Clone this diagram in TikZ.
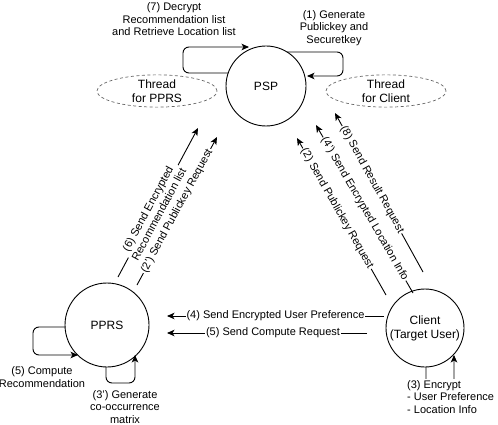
\documentclass[tikz,border=0pt]{standalone}
\usepackage{fontspec}
\setmainfont{Liberation Sans}
\usetikzlibrary{arrows.meta,shapes.geometric}
\begin{document}
\begin{tikzpicture}[x=1pt,y=-1pt,
  ln/.style={line width=0.9pt},
  arr/.style={ln,-{Stealth[length=7.5pt,width=6.5pt,inset=2pt]}},
  circ/.style={circle,draw,line width=0.9pt,inner sep=0pt,align=center,font=\fontsize{12}{14}\selectfont},
  thr/.style={ellipse,draw=black!60,dashed,dash pattern=on 3pt off 2.5pt,line width=0.7pt,minimum width=120pt,minimum height=31pt,inner sep=0pt,align=center,font=\fontsize{12}{14}\selectfont},
  lbl/.style={font=\fontsize{11}{12.5}\selectfont,align=center,inner sep=1pt},
  lab/.style={lbl,fill=white,sloped}]
\useasboundingbox (0,0) rectangle (498,425);
% main nodes
\node[circ,minimum size=80pt] (psp) at (266,86) {PSP};
\node[circ,minimum size=84pt] (pprs) at (107,325) {PPRS};
\node[circ,minimum size=78pt] (client) at (425,328) {Client\\(Target User)};
\node[thr] (tp) at (157,91) {Thread\\for PPRS};
\node[thr] (tc) at (386,91) {Thread\\for Client};
% end points
\coordinate (a6s) at (118,277); \coordinate (a6e) at (198,128);
\coordinate (a2ps) at (137,285); \coordinate (a2pe) at (217,137);
\coordinate (a2s) at (386,295); \coordinate (a2e) at (297,138);
\coordinate (a4ps) at (413,293); \coordinate (a4pe) at (316,125);
\coordinate (a8s) at (423,272); \coordinate (a8e) at (335,113);
\coordinate (a4s) at (384,316); \coordinate (a4e) at (167,316);
\coordinate (a5s) at (367,333); \coordinate (a5e) at (167,333);
% diagonal arrows
\draw[arr] (a6s) -- node[lab,pos=0.44]{(6) Send Encrypted\\Recommendation list} (a6e);
\draw[arr] (a2ps) -- node[lab,pos=0.5]{(2') Send Publickey Request} (a2pe);
\draw[arr] (a2s) -- node[lab,pos=0.55]{(2) Send Publickey Request} (a2e);
\draw[arr] (a4ps) -- node[lab,pos=0.5]{(4') Send Encrypted Location Info} (a4pe);
\draw[arr] (a8s) -- node[lab,pos=0.58]{(8) Send Result Request} (a8e);
% horizontal arrows
\draw[arr] (a4s) -- node[lab,pos=0.5]{(4) Send Encrypted User Preference} (a4e);
\draw[arr] (a5s) -- node[lab,pos=0.47]{(5) Send Compute Request} (a5e);
% self loops
\coordinate (l7s) at (228,73); \coordinate (l7e) at (249,47);
\draw[arr,rounded corners=6pt] (l7s) -- (183,73) -- (183,47) -- (l7e);
\coordinate (l1s) at (287,52); \coordinate (l1e) at (307,76);
\draw[arr,rounded corners=6pt] (l1s) -- (343,52) -- (343,76) -- (l1e);
\coordinate (l5s) at (65,327); \coordinate (l5e) at (78,355);
\draw[arr,rounded corners=6pt] (l5s) -- (33,327) -- (33,355) -- (l5e);
\coordinate (l3ps) at (106,367); \coordinate (l3pe) at (135,355);
\draw[arr,rounded corners=6pt] (l3ps) -- (106,383) -- (135,383) -- (l3pe);
\coordinate (l3s) at (426,367); \coordinate (l3e) at (454,355);
\draw[arr,rounded corners=6pt] (l3s) -- (426,392) -- (454,392) -- (l3e);
% loop labels
\node[lbl] (t7) at (174,19.5) {(7) Decrypt\\Recommendation list\\and Retrieve Location list};
\node[lbl] (t1) at (334,28) {(1) Generate\\Publickey and\\Securetkey};
\node[lbl] (t5) at (42,377) {(5) Compute\\Recommendation};
\node[lbl] (t3p) at (125,407) {(3') Generate\\co-occurrence\\matrix};
\node[lbl,align=left,fill=white,anchor=west] (t3) at (406,397) {(3) Encrypt\\- User Preference\\- Location Info};
\end{tikzpicture}
\end{document}
